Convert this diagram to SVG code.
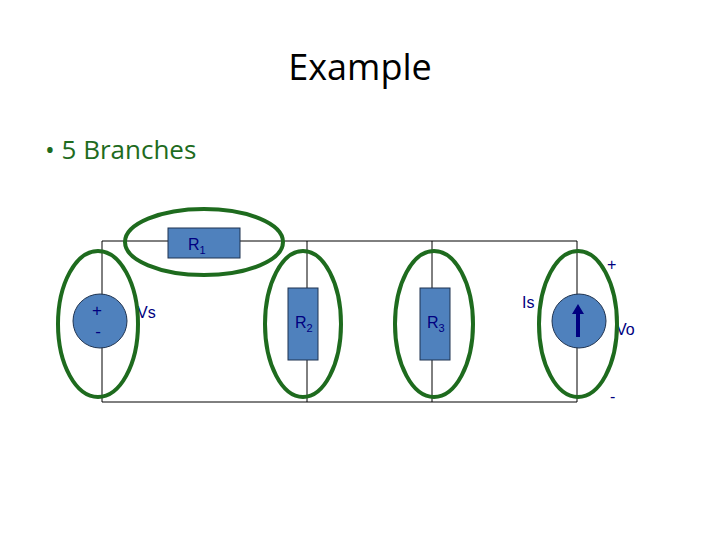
<svg xmlns="http://www.w3.org/2000/svg" width="720" height="540" viewBox="0 0 720 540">
<style>
.w{stroke:#000;stroke-width:1;fill:none}
.c{fill:#4f81bd;stroke:#1f3350;stroke-width:1}
.l{font-family:"Liberation Sans",Arial,sans-serif;fill:#000080}
.e{fill:none;stroke:#1e6b1e;stroke-width:4}
</style>
<rect width="720" height="540" fill="#fff"/>
<text x="360" y="80" text-anchor="middle" font-family="Open Sans,Liberation Sans,sans-serif" font-size="36" fill="#000">Example</text>
<text x="45" y="159" font-family="Open Sans,Liberation Sans,sans-serif" font-size="26" fill="#1e6b1e">•  5 Branches</text>
<g id="wires">
<path class="w" d="M102 241H577V402H102Z M307 241V402 M432 241V402"/>
</g>
<g id="R1"><rect class="c" x="168" y="228" width="72" height="30"/><text class="l" x="188" y="250" font-size="16">R<tspan font-size="11" dy="4">1</tspan></text></g>
<g id="Vs"><circle class="c" cx="100" cy="321" r="27"/><text class="l" x="97" y="316" font-size="17" text-anchor="middle">+</text><text class="l" x="98" y="337" font-size="17" text-anchor="middle">-</text><text class="l" x="137" y="318" font-size="16">Vs</text></g>
<g id="R2"><rect class="c" x="288" y="288" width="30" height="72"/><text class="l" x="295" y="328" font-size="16">R<tspan font-size="11" dy="4">2</tspan></text></g>
<g id="R3"><rect class="c" x="420" y="288" width="30" height="72"/><text class="l" x="427" y="328" font-size="16">R<tspan font-size="11" dy="4">3</tspan></text></g>
<g id="Is"><circle class="c" cx="579" cy="321" r="27"/><path d="M576 337V314h-4l6-10 6 10h-4v23z" fill="#000080"/><text class="l" x="522" y="308" font-size="16">Is</text></g>
<g id="Vo"><text class="l" x="607" y="270" font-size="16">+</text><text class="l" x="616" y="335" font-size="16">Vo</text><text class="l" x="610" y="402" font-size="16">-</text></g>
<g id="ellipses">
<ellipse class="e" cx="204" cy="242" rx="79" ry="33"/>
<ellipse class="e" cx="98" cy="324" rx="40" ry="73"/>
<ellipse class="e" cx="303" cy="324" rx="38" ry="73"/>
<ellipse class="e" cx="434" cy="324" rx="39" ry="73"/>
<ellipse class="e" cx="578" cy="324" rx="39" ry="73"/>
</g>
</svg>
